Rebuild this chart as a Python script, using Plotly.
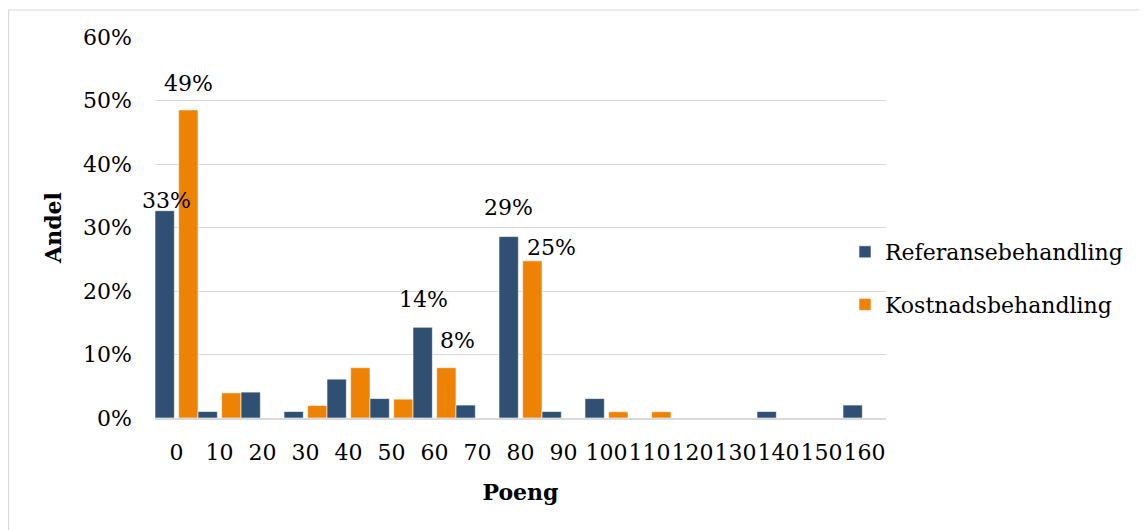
import plotly.graph_objects as go

categories = ["0", "10", "20", "30", "40", "50", "60", "70", "80", "90",
              "100", "110", "120", "130", "140", "150", "160"]
referanse = [0.3265, 0.0102, 0.0408, 0.0102, 0.0612, 0.0306, 0.1429, 0.0204, 0.2857,
             0.0102, 0.0306, 0, 0, 0, 0.0102, 0, 0.0204]
kostnad = [0.4851, 0.0396, 0, 0.0198, 0.0792, 0.0297, 0.0792, 0, 0.2475,
           0, 0.0099, 0.0099, 0, 0, 0, 0, 0]
# which points carry a data label
ref_labels = [0, 6, 8]
kost_labels = [0, 6, 8]

BLUE = "#2F5072"
ORANGE = "#EE8204"
FONT = "DejaVu Serif"
idx = list(range(len(categories)))

# the page body adds an 8px offset; plot area lands at x 155..886, y 37..418 of the page
W, H = 1139, 522
L, T, R, B = 147, 29, 261, 112
PW, PH = W - L - R, H - T - B

fig = go.Figure()
fig.add_trace(go.Bar(
    x=idx, y=kostnad, name="Kostnadsbehandling", legendgroup="k", legendrank=2,
    marker=dict(color=ORANGE, line=dict(color="rgba(255,255,255,0.6)", width=1)),
    width=0.45, offset=0.05,
))
fig.add_trace(go.Bar(
    x=idx, y=referanse, name="Referansebehandling", legendgroup="r", legendrank=1,
    marker=dict(color=BLUE, line=dict(color="rgba(255,255,255,0.6)", width=1)),
    width=0.45, offset=-0.5,
))

# data labels (pixel nudges as in the original)
ref_shift = {0: (2, 10), 6: (1, 28), 8: (0, 29)}
kost_shift = {0: (0, 26), 6: (11, 27), 8: (19, 13)}
for i in ref_labels:
    dx, dy = ref_shift[i]
    fig.add_annotation(x=i - 0.275, y=referanse[i], text=f"{round(referanse[i]*100)}%",
                       showarrow=False, xshift=dx, yshift=dy, yanchor="middle",
                       font=dict(family=FONT, size=22, color="#000000"))
for i in kost_labels:
    dx, dy = kost_shift[i]
    fig.add_annotation(x=i + 0.275, y=kostnad[i], text=f"{round(kostnad[i]*100)}%",
                       showarrow=False, xshift=dx, yshift=dy, yanchor="middle",
                       font=dict(family=FONT, size=22, color="#000000"))

# outer chart border (only left and top edges are visible)
fig.add_shape(type="rect", xref="paper", yref="paper",
              x0=(0.5 - L) / PW, x1=(W + 20 - L) / PW,
              y0=(T + PH - (H + 20)) / PH, y1=(T + PH - 2) / PH,
              line=dict(color="#D9D9D9", width=1.2), fillcolor="rgba(0,0,0,0)", layer="below")

fig.update_layout(
    width=W, height=H,
    margin=dict(l=L, r=R, t=T, b=B),
    paper_bgcolor="white", plot_bgcolor="white",
    font=dict(family=FONT, size=22, color="#000000"),
    barmode="overlay",
    showlegend=True,
    legend=dict(x=(845 - 155) / PW, xanchor="left", y=(418 - 231) / PH, yanchor="top",
                traceorder="grouped", tracegroupgap=21, bgcolor="rgba(0,0,0,0)",
                font=dict(family=FONT, size=22)),
    xaxis=dict(
        tickmode="array", tickvals=idx, ticktext=categories, tickangle=0,
        range=[-0.5, len(categories) - 0.5],
        showgrid=False, zeroline=False, showline=True, linecolor="#D9D9D9", linewidth=2,
        ticks="", ticklabelstandoff=14,
        title=dict(text="<b>Poeng</b>", font=dict(family=FONT, size=22), standoff=20),
    ),
    yaxis=dict(
        range=[0, 0.6], dtick=0.1, tickformat=".0%",
        showgrid=True, gridcolor="#D9D9D9", gridwidth=1.3, zeroline=False,
        ticks="", ticklabelstandoff=22,
        title=dict(text="<b>Andel</b>", font=dict(family=FONT, size=22), standoff=15),
    ),
)

fig.write_html("out.html")
